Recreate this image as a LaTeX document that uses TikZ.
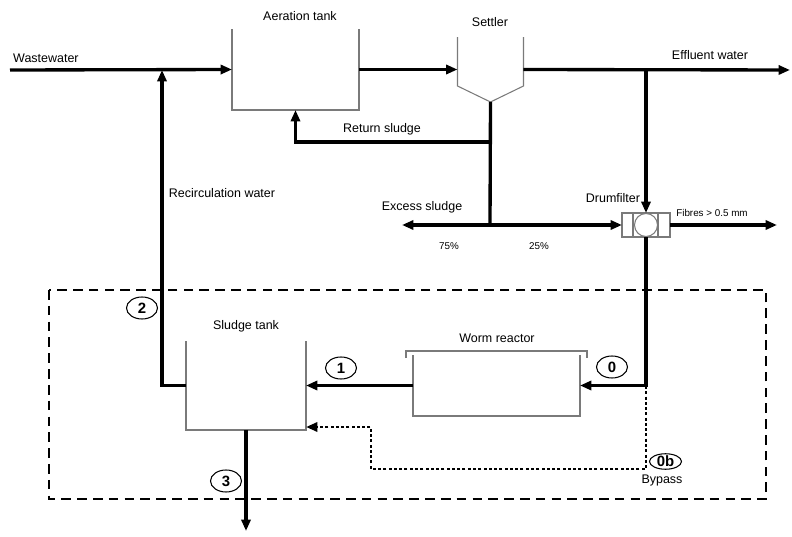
\documentclass[tikz,border=0pt]{standalone}
\usepackage{fontspec}
\setmainfont{Liberation Sans}
\usepackage{tikz}
\usetikzlibrary{arrows.meta,shapes.geometric,positioning}
\definecolor{wall}{HTML}{7A7A7A}

\begin{document}
\begin{tikzpicture}[x=0.02cm,y=-0.02cm,>={Triangle[length=6.5pt,width=5.2pt]},font=\fontsize{7.1}{8}\selectfont,
  flow/.style={line width=1.9pt,->},
  bypass/.style={line width=1.6pt,dash pattern=on 1.7pt off 1.3pt,->},
  wall/.style={draw=wall,line width=.6pt},
  vessel/.style={draw=none,inner sep=0,outer sep=0},
  tag/.style={draw,ellipse,line width=.6pt,fill=white,font=\fontsize{8.5}{9}\selectfont\bfseries,inner sep=0,minimum width=.62cm,minimum height=.44cm},
  tiny/.style={font=\fontsize{5.6}{6}\selectfont}]
\useasboundingbox (0,0) rectangle (792,537);
% aeration tank and settler
\node[vessel,minimum width=2.54cm,minimum height=1.62cm] (aer) at (295.5,69.5){};
\draw[wall] (aer.north west)--(aer.south west)--(aer.south east)--(aer.north east);
\node at (300,16){Aeration tank};
\node[vessel,minimum width=1.32cm,minimum height=1.3cm] (set) at (490.5,69.5){};
\draw[wall] (set.north west)--([yshift=.32cm]set.south west)--(set.south)--([yshift=.32cm]set.south east)--(set.north east);
\node at (490,22){Settler};
\coordinate (win) at (10,70); \coordinate (jrec) at (162,70);
\coordinate (eff) at (790,70); \coordinate (jeff) at (646,70);
\draw[flow] (win)--(aer.west); \node[anchor=west] at (7,58){Wastewater};
\draw[flow] (aer.east)--(set.west);
\draw[flow] (set.east)--(eff); \node at (710,55){Effluent water};
% return and excess sludge
\coordinate (jret) at (490,142); \coordinate (jex) at (490,225); \coordinate (exout) at (402,225);
\draw[line width=1.9pt] (set.south)--(jex);
\draw[flow] (jret)-|(aer.south); \node at (382,129){Return sludge};
\draw[flow] (jex)--(exout); \node at (422,207){Excess sludge};
\node[tiny] at (449,246){75\%}; \node[tiny] at (539,246){25\%};
% drumfilter
\node[draw=wall,line width=.6pt,minimum width=.96cm,minimum height=.48cm,inner sep=0,outer sep=0] (drum) at (646,225){};
\node[draw=wall,circle,line width=.6pt,minimum size=.46cm,inner sep=0,fill=white] (drumc) at (drum.center){};
\draw[wall] ([xshift=-.26cm]drum.north)--([xshift=-.26cm]drum.south) ([xshift=.24cm]drum.north)--([xshift=.24cm]drum.south);
\node at (613,198){Drumfilter};
\draw[flow] (jex)--(drum.west);
\draw[flow] (jeff)--(drum.north);
\coordinate (fib) at (777,225);
\draw[flow] (drum.east)--(fib); \node[tiny] at (712,213){Fibres > 0.5 mm};
% worm system
\draw[line width=.8pt,dash pattern=on 5.5pt off 3.5pt] (49,290) rectangle (766,499);
\node[vessel,minimum width=2.4cm,minimum height=1.78cm] (sl) at (246,385.5){};
\draw[wall] (sl.north west)--(sl.south west)--(sl.south east)--(sl.north east);
\node at (246,326){Sludge tank};
\node[vessel,minimum width=3.34cm,minimum height=1.22cm] (wr) at (496.5,385.5){};
\draw[wall] (wr.north west)--(wr.south west)--(wr.south east)--(wr.north east);
\draw[wall] ([shift={(-7,3)}]wr.north west)--++(0,-7)-|([shift={(7,3)}]wr.north east);
\node at (497,338){Worm reactor};
\coordinate (jby) at (646,386); \coordinate (bya) at (371,469); \coordinate (byin) at (306,427);
\coordinate (out) at (246,531);
\draw[flow] (drum.south)|-(wr.east);
\draw[flow] (wr.west)--(sl.east);
\draw[flow] (sl.west)-|(jrec); \node at (222,193){Recirculation water};
\draw[flow] (sl.south)--(out);
\draw[bypass] (jby)|-(bya)|-(byin);
\node at (662,481){Bypass};
\foreach \n/\p in {2/{(142,308)},1/{(341,368)},0/{(612,367)},3/{(226,481)}}
  \node[tag] (t\n) at \p {\n};
\node[tag,minimum width=.64cm,minimum height=.2cm] (t0b) at (665.5,461.5){0b};
\end{tikzpicture}
\end{document}
